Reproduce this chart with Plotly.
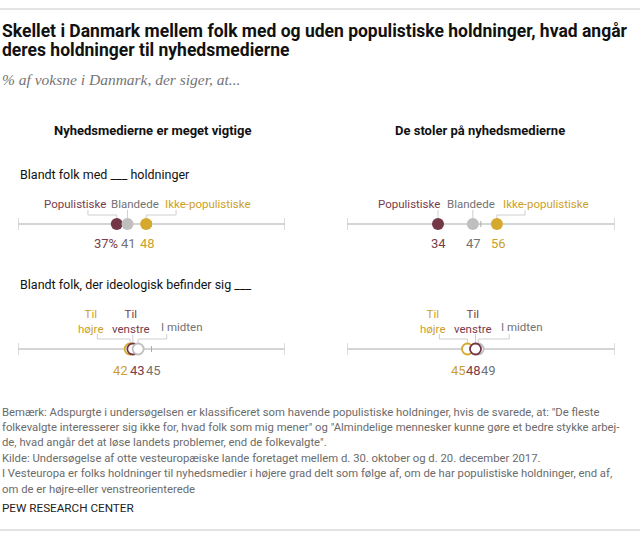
import plotly.graph_objects as go

# ---------------- data ----------------
title_lines = ["Skellet i Danmark mellem folk med og uden populistiske holdninger, hvad angår",
               "deres holdninger til nyhedsmedierne"]
subtitle = "% af voksne i Danmark, der siger, at..."
panel_titles = ["Nyhedsmedierne er meget vigtige", "De stoler på nyhedsmedierne"]
row_titles = ["Blandt folk med ___ holdninger", "Blandt folk, der ideologisk befinder sig ___"]
populism_groups = ["Populistiske", "Blandede", "Ikke-populistiske"]
ideology_groups = ["Til<br>højre", "Til<br>venstre", "I midten"]
important_by_populism = [37, 41, 48]
trust_by_populism = [34, 47, 56]
important_by_ideology = [42, 43, 45]
trust_by_ideology = [45, 48, 49]
note_lines = [
    'Bemærk: Adspurgte i undersøgelsen er klassificeret som havende populistiske holdninger, hvis de svarede, at: "De fleste',
    'folkevalgte interesserer sig ikke for, hvad folk som mig mener" og "Almindelige mennesker kunne gøre et bedre stykke arbej-',
    'de, hvad angår det at løse landets problemer, end de folkevalgte".',
    'Kilde: Undersøgelse af otte vesteuropæiske lande foretaget mellem d. 30. oktober og d. 20. december 2017.',
    'I Vesteuropa er folks holdninger til nyhedsmedier i højere grad delt som følge af, om de har populistiske holdninger, end af,',
    'om de er højre-eller venstreorienterede',
]
source = "PEW RESEARCH CENTER"

# ---------------- style ----------------
W, H = 640, 537
SANS = "Roboto, sans-serif"
SERIF = "Liberation Serif, serif"
MAROON, GOLD, GRAYDOT = "#733746", "#D5A82E", "#BFBFBF"
T_MAROON, T_GOLD, T_GRAY = "#7A3B4B", "#CC9F2A", "#737373"
AXIS_C, TICK_C, CONN_C = "#ABABAB", "#D0D0D0", "#CFCFCF"

pop_colors = [MAROON, GRAYDOT, GOLD]
pop_text = [T_MAROON, T_GRAY, T_GOLD]
ide_colors = [GOLD, MAROON, GRAYDOT]
ide_text = [T_GOLD, T_MAROON, T_GRAY]

# (panel, row) layout settings: label centres / connector anchors in axis units, value shifts in px
cells = [
    dict(panel=0, row=0, vals=important_by_populism, groups=populism_groups, colors=pop_colors, tcol=pop_text,
         filled=True, lab_x=[21.3, 44.0, 71.3], anchor=[26.2, None, 59.2], vshift=[-11, 1, 1], order=[0, 1, 2]),
    dict(panel=1, row=0, vals=trust_by_populism, groups=populism_groups, colors=pop_colors, tcol=pop_text,
         filled=True, lab_x=[23.3, 46.5, 74.3], anchor=[None, None, 66.5], vshift=[0, 1, 2], order=[0, 1, 2]),
    dict(panel=0, row=1, vals=important_by_ideology, groups=ideology_groups, colors=ide_colors, tcol=ide_text,
         filled=False, lab_x=[27.2, 42.5, 61.6], anchor=[29.7, None, 55.7], vshift=[-10, 4.5, 15.5], order=[0, 1, 2]),
    dict(panel=1, row=1, vals=trust_by_ideology, groups=ideology_groups, colors=ide_colors, tcol=ide_text,
         filled=False, lab_x=[32.1, 47.1, 65.4], anchor=[34.5, None, 60.6], vshift=[-9, -2, 10], order=[2, 0, 1]),
]
row_y = [224, 349]          # axis line y (px from top)
label_y = [204, 321]        # label centre y
conn_top = [210, 334]
conn_elbow = [215, 339]
value_y = [243, 370]

fig = go.Figure()
shapes, annos = [], []

def txt(x, y, text, size, color, xref="paper", xanchor="left", family=SANS, bold=False, italic=False, xshift=0):
    t = f"<b>{text}</b>" if bold else text
    t = f"<i>{t}</i>" if italic else t
    annos.append(dict(x=x, y=y, xref=xref, yref="y", text=t, showarrow=False, xanchor=xanchor,
                      yanchor="middle", xshift=xshift, font=dict(size=size, color=color, family=family)))

for c in cells:
    xa = "x" if c["panel"] == 0 else "x2"
    r = c["row"]
    y0 = row_y[r]
    # axis line and ticks
    shapes.append(dict(type="line", xref=xa, yref="y", x0=0, x1=100, y0=y0, y1=y0,
                       line=dict(color=AXIS_C, width=1), layer="below"))
    for tx in (0, 100):
        shapes.append(dict(type="line", xref=xa, yref="y", x0=tx, x1=tx, y0=y0 - 6, y1=y0 + 6,
                           line=dict(color=TICK_C, width=1.5), layer="below"))
    shapes.append(dict(type="line", xref=xa, yref="y", x0=50, x1=50, y0=y0 - 3, y1=y0 + 3,
                       line=dict(color=AXIS_C, width=1), layer="below"))
    # connectors
    for i, v in enumerate(c["vals"]):
        a = c["anchor"][i] if c["anchor"][i] is not None else v
        fig.add_trace(go.Scatter(x=[a, a, v, v], y=[conn_top[r], conn_elbow[r], conn_elbow[r], y0],
                                 xaxis=xa, yaxis="y", mode="lines",
                                 line=dict(color=CONN_C, width=1), hoverinfo="skip", showlegend=False))
    # dots
    o = c["order"]
    xs = [c["vals"][i] for i in o]
    cols = [c["colors"][i] for i in o]
    if c["filled"]:
        marker = dict(size=12, color=cols, line=dict(width=0))
    else:
        marker = dict(size=11, color="white", line=dict(width=1.8, color=cols))
    fig.add_trace(go.Scatter(x=xs, y=[y0] * 3, xaxis=xa, yaxis="y", mode="markers", marker=marker,
                             hoverinfo="skip", showlegend=False))
    # labels and values
    for i, v in enumerate(c["vals"]):
        ly = label_y[r] + (6 if (r == 1 and "<br>" not in c["groups"][i]) else 0)
        txt(c["lab_x"][i], ly, c["groups"][i], 11.5, c["tcol"][i], xref=xa, xanchor="center")
        vt = f"{v}%" if (c["panel"] == 0 and r == 0 and i == 0) else f"{v}"
        txt(v, value_y[r], vt, 13, c["tcol"][i], xref=xa, xanchor="center", xshift=c["vshift"][i])

# titles
txt(0, 31, title_lines[0], 17.5, "#111111", bold=True)
txt(0, 50, title_lines[1], 17.5, "#111111", bold=True)
txt(0, 79, subtitle, 15.5, "#757575", family=SERIF, italic=True)
txt(152 / W, 130, panel_titles[0], 13, "#111111", xanchor="center", bold=True)
txt(480 / W, 130, panel_titles[1], 13, "#111111", xanchor="center", bold=True)
txt(18 / W, 174, row_titles[0], 12.5, "#111111")
txt(18 / W, 284, row_titles[1], 12.5, "#111111")
for k, line in enumerate(note_lines):
    txt(0, 412 + k * 15.4, line, 11.3, "#6B6B6B")
txt(0, 508, source, 11.7, "#222222")

shapes.append(dict(type="line", xref="paper", yref="y", x0=0, x1=1, y0=9, y1=9, line=dict(color="#C8C8C8", width=1)))
shapes.append(dict(type="line", xref="paper", yref="y", x0=0, x1=1, y0=530, y1=530, line=dict(color="#C8C8C8", width=1)))

fig.update_layout(
    width=W, height=H, margin=dict(l=0, r=0, t=0, b=0),
    paper_bgcolor="white", plot_bgcolor="white",
    xaxis=dict(domain=[18 / W, 285 / W], range=[0, 100], visible=False, fixedrange=True, anchor="y"),
    xaxis2=dict(domain=[347 / W, 614.7 / W], range=[0, 100], visible=False, fixedrange=True, anchor="y"),
    yaxis=dict(domain=[0, 1], range=[H, 0], visible=False, fixedrange=True),
    shapes=shapes, annotations=annos, showlegend=False,
)
fig.write_html("out.html", post_script="document.body.style.margin='0px';", config={"displayModeBar": False})
